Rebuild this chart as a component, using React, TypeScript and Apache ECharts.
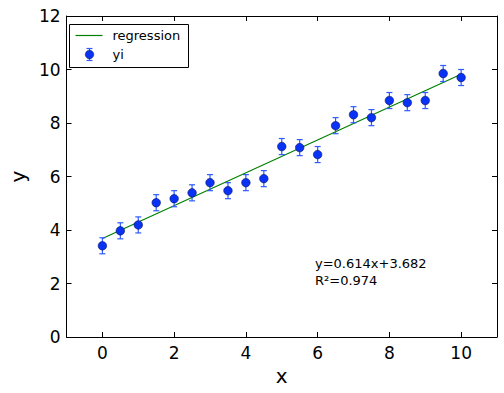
import React, { useEffect, useRef } from "react";
import * as echarts from "echarts";

const xValues = [0, 0.5, 1, 1.5, 2, 2.5, 3, 3.5, 4, 4.5, 5, 5.5, 6, 6.5, 7, 7.5, 8, 8.5, 9, 9.5, 10];
const yValues = [3.41, 3.97, 4.19, 5.02, 5.17, 5.39, 5.77, 5.47, 5.77, 5.92, 7.12, 7.08, 6.82, 7.9, 8.31, 8.2, 8.84, 8.76, 8.84, 9.85, 9.7];
const yErrors = [0.3, 0.3, 0.3, 0.3, 0.3, 0.3, 0.3, 0.3, 0.3, 0.3, 0.3, 0.3, 0.3, 0.3, 0.3, 0.3, 0.3, 0.3, 0.3, 0.3, 0.3];
const regressionX = [0, 10];
const regressionY = [3.682, 9.822];
const xTicks = [0, 2, 4, 6, 8, 10];
const equationText = "y=0.614x+3.682";
const r2Text = "R\u00b2=0.974";

const FONT = "DejaVu Sans";

export default function App() {
  const ref = useRef<HTMLDivElement>(null);
  useEffect(() => {
    document.body.style.margin = "0";
    if (!ref.current) return;
    const chart = echarts.init(ref.current, undefined, { renderer: "svg" });
    const points = xValues.map((x, i) => [x, yValues[i]]);
    const errData = xValues.map((x, i) => [x, yValues[i] - yErrors[i], yValues[i] + yErrors[i]]);
    const regData = regressionX.map((x, i) => [x, regressionY[i]]);
    const tickCommon = { show: true, inside: true, length: 5, lineStyle: { color: "#000", width: 1 } };
    const lineCommon = { show: true, onZero: false, lineStyle: { color: "#000", width: 1 } };
    const option: any = {
      animation: false,
      backgroundColor: "#fff",
      textStyle: { fontFamily: FONT },
      grid: { left: 63, right: 7, top: 16, bottom: 56 },
      xAxis: [
        {
          type: "value",
          min: -1,
          max: 11,
          position: "bottom",
          name: "x",
          nameLocation: "middle",
          nameGap: 27,
          nameTextStyle: { fontFamily: FONT, fontSize: 20, color: "#000" },
          axisLine: lineCommon,
          axisTick: { ...tickCommon, customValues: xTicks },
          axisLabel: { customValues: xTicks, fontFamily: FONT, fontSize: 17, color: "#000", margin: 7 },
          splitLine: { show: false },
        },
        {
          type: "value",
          min: -1,
          max: 11,
          position: "top",
          axisLine: lineCommon,
          axisTick: { ...tickCommon, customValues: xTicks },
          axisLabel: { show: false, customValues: xTicks },
          splitLine: { show: false },
        },
      ],
      yAxis: [
        {
          type: "value",
          min: 0,
          max: 12,
          interval: 2,
          position: "left",
          name: "y",
          nameLocation: "middle",
          nameGap: 37,
          nameTextStyle: { fontFamily: FONT, fontSize: 20, color: "#000" },
          axisLine: lineCommon,
          axisTick: tickCommon,
          axisLabel: { fontFamily: FONT, fontSize: 17, color: "#000", margin: 6 },
          splitLine: { show: false },
        },
        {
          type: "value",
          min: 0,
          max: 12,
          interval: 2,
          position: "right",
          axisLine: lineCommon,
          axisTick: tickCommon,
          axisLabel: { show: false },
          splitLine: { show: false },
        },
      ],
      series: [
        {
          name: "regression",
          type: "line",
          data: regData,
          symbol: "none",
          lineStyle: { color: "#008000", width: 1.2 },
          z: 2,
        },
        {
          name: "yi-err",
          type: "custom",
          data: errData,
          encode: { x: 0, y: [1, 2] },
          z: 3,
          renderItem: (params: any, api: any) => {
            const x = api.value(0);
            const lo = api.coord([x, api.value(1)]);
            const hi = api.coord([x, api.value(2)]);
            const cap = 3;
            const style = { stroke: "#2f5bff", lineWidth: 1.2 };
            return {
              type: "group",
              children: [
                { type: "line", shape: { x1: lo[0], y1: lo[1], x2: hi[0], y2: hi[1] }, style },
                { type: "line", shape: { x1: lo[0] - cap, y1: lo[1], x2: lo[0] + cap, y2: lo[1] }, style },
                { type: "line", shape: { x1: hi[0] - cap, y1: hi[1], x2: hi[0] + cap, y2: hi[1] }, style },
              ],
            };
          },
        },
        {
          name: "yi",
          type: "scatter",
          data: points,
          symbol: "circle",
          symbolSize: 8.5,
          itemStyle: { color: "#0a32f5", borderColor: "#001060", borderWidth: 0.6, opacity: 1 },
          z: 4,
        },
      ],
      graphic: [
        {
          type: "group",
          left: 69,
          top: 24,
          children: [
            { type: "rect", shape: { x: 0, y: 0, width: 119, height: 43 }, style: { fill: "#fff", stroke: "#000", lineWidth: 1 } },
            { type: "line", shape: { x1: 6, y1: 11, x2: 33, y2: 11 }, style: { stroke: "#008000", lineWidth: 1.2 } },
            { type: "text", x: 43, y: 11, style: { text: "regression", fontFamily: FONT, fontSize: 13, fill: "#000", verticalAlign: "middle" } },
            { type: "line", shape: { x1: 20, y1: 24, x2: 20, y2: 36 }, style: { stroke: "#2f5bff", lineWidth: 1.2 } },
            { type: "line", shape: { x1: 17, y1: 24, x2: 23, y2: 24 }, style: { stroke: "#2f5bff", lineWidth: 1.2 } },
            { type: "line", shape: { x1: 17, y1: 36, x2: 23, y2: 36 }, style: { stroke: "#2f5bff", lineWidth: 1.2 } },
            { type: "circle", shape: { cx: 20, cy: 30, r: 4.2 }, style: { fill: "#0a32f5", stroke: "#001060", lineWidth: 0.6 } },
            { type: "text", x: 43, y: 30, style: { text: "yi", fontFamily: FONT, fontSize: 13, fill: "#000", verticalAlign: "middle" } },
          ],
        },
        {
          type: "text",
          left: 315,
          top: 255,
          style: { text: equationText + "\n" + r2Text, fontFamily: FONT, fontSize: 13, lineHeight: 17, fill: "#000" },
        },
      ],
    };
    chart.setOption(option);
    return () => chart.dispose();
  }, []);
  return <div ref={ref} style={{ width: 504, height: 393 }} />;
}
